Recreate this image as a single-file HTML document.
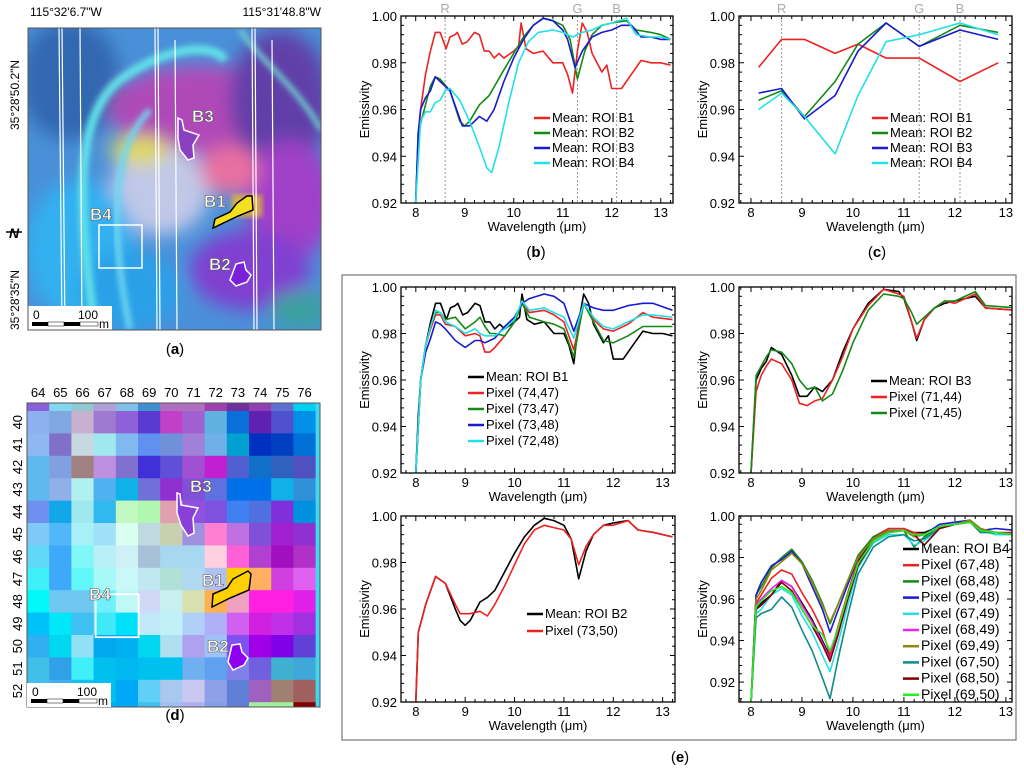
<!DOCTYPE html>
<html><head><meta charset="utf-8">
<style>
html,body{margin:0;padding:0;background:#fff;}
svg{display:block;font-family:"Liberation Sans",Arial,sans-serif;}
</style></head>
<body>
<svg id="fig" width="1024" height="775" viewBox="0 0 1024 775" xmlns="http://www.w3.org/2000/svg">
<defs>
 <filter id="blur8" x="-30%" y="-30%" width="160%" height="160%"><feGaussianBlur stdDeviation="9"/></filter>
 <filter id="blur3"><feGaussianBlur stdDeviation="3"/></filter>
 <clipPath id="clipA"><rect x="28" y="28" width="293" height="302"/></clipPath>
</defs>

<!-- Panel (a) map -->
<g>
 <text x="30" y="16" font-size="12">115°32'6.7"W</text>
 <text x="321" y="16" font-size="12" text-anchor="end">115°31'48.8"W</text>
 <text transform="translate(19,130) rotate(-90)" font-size="12">35°28'50.2"N</text>
 <text transform="translate(19,330) rotate(-90)" font-size="12">35°28'35"N</text>
 <g>
  <line x1="6" y1="232" x2="22" y2="232" stroke="#000" stroke-width="1.5"/>
  <text x="14" y="238" font-size="14" font-weight="bold" text-anchor="middle" font-style="italic">N</text>
 </g>
 <g clip-path="url(#clipA)">
  <rect x="28" y="28" width="293" height="302" fill="#4a90d8"/>
  <g filter="url(#blur8)">
   <ellipse cx="70" cy="80" rx="50" ry="60" fill="#3068b0"/>
   <ellipse cx="200" cy="110" rx="90" ry="45" fill="#b048b8"/>
   <ellipse cx="280" cy="100" rx="50" ry="70" fill="#6040a8"/>
   <ellipse cx="290" cy="200" rx="45" ry="60" fill="#a040c8"/>
   <ellipse cx="250" cy="270" rx="60" ry="40" fill="#8040d0"/>
   <ellipse cx="160" cy="190" rx="50" ry="45" fill="#c0c8e8"/>
   <ellipse cx="140" cy="150" rx="30" ry="15" fill="#e0d860"/>
   <ellipse cx="230" cy="170" rx="30" ry="25" fill="#e870a0"/>
   <ellipse cx="80" cy="250" rx="55" ry="70" fill="#30b0f0"/>
   <ellipse cx="130" cy="290" rx="50" ry="40" fill="#2aa0e8"/>
   <ellipse cx="300" cy="310" rx="30" ry="20" fill="#3aa0a0"/>
  </g>
  <path d="M95,330 C80,220 70,120 120,80 C160,50 210,40 225,60" fill="none" stroke="#60e0e8" stroke-width="9" filter="url(#blur3)"/>
  <path d="M130,330 C110,230 110,150 150,110" fill="none" stroke="#70d8f0" stroke-width="6" filter="url(#blur3)"/>
  <path d="M240,30 C260,60 300,90 321,130" fill="none" stroke="#70d0d0" stroke-width="5" filter="url(#blur3)"/>
  <rect x="232" y="195" width="30" height="22" fill="#f0c020" opacity="0.8" filter="url(#blur3)"/>
  <g stroke="#fff" stroke-width="1.2" fill="none">
   <line x1="59" y1="28" x2="62" y2="330"/><line x1="62" y1="28" x2="65" y2="330"/>
   <line x1="80" y1="28" x2="82" y2="330"/>
   <line x1="155" y1="28" x2="157" y2="330"/><line x1="158" y1="28" x2="160" y2="330"/>
   <line x1="175" y1="40" x2="177" y2="330"/>
   <line x1="252" y1="28" x2="254" y2="330"/><line x1="255" y1="28" x2="257" y2="330"/>
   <line x1="272" y1="40" x2="274" y2="330"/>
  </g>
  <polygon points="178,118 182,120 184,130 199,135 193,145 194,158 188,160 180,150 178,138" fill="#8a40c0" stroke="#fff" stroke-width="1.5"/>
  <polygon points="213,228 215,219 230,212 237,203 247,196 252,196 253,210 238,216" fill="#f5e020" stroke="#000" stroke-width="1.5"/>
  <polygon points="236,264 244,262 246,270 251,275 247,282 236,286 230,280" fill="#7a20d8" stroke="#fff" stroke-width="1.5"/>
  <rect x="99" y="225" width="43" height="43" fill="none" stroke="#fff" stroke-width="1.5"/>
  <g font-size="17" font-weight="bold" fill="#fff" stroke="#555" stroke-width="0.6">
   <text x="192" y="122">B3</text><text x="204" y="207">B1</text><text x="90" y="220">B4</text><text x="209" y="270">B2</text>
  </g>
  <g>
   <rect x="28" y="306" width="84" height="24" fill="#fff"/>
   <rect x="32" y="322" width="16" height="4" fill="#000"/><rect x="48" y="322" width="16" height="4" fill="#fff" stroke="#000" stroke-width="0.5"/>
   <rect x="64" y="322" width="16" height="4" fill="#000"/><rect x="80" y="322" width="18" height="4" fill="#fff" stroke="#000" stroke-width="0.5"/>
   <text x="33" y="319" font-size="12">0</text><text x="78" y="319" font-size="12">100</text><text x="99" y="328" font-size="12">m</text>
  </g>
 </g>
 <rect x="28" y="28" width="293" height="302" fill="none" stroke="#555" stroke-width="1"/>
 <text x="175" y="354" font-size="15" text-anchor="middle">(<tspan font-weight="bold">a</tspan>)</text>
</g>

<!-- Panel (d) grid -->
<g id="panelD">
 <text x="175" y="720" font-size="15" text-anchor="middle">(<tspan font-weight="bold">d</tspan>)</text>
</g>

<!-- charts -->
<g id="charts"></g>
<rect x="342" y="275" width="674" height="465" fill="none" stroke="#777" stroke-width="1.2"/>
<text x="680" y="762" font-size="15" text-anchor="middle">(<tspan font-weight="bold">e</tspan>)</text>
<text x="536" y="257" font-size="15" text-anchor="middle">(<tspan font-weight="bold">b</tspan>)</text>
<text x="877" y="257" font-size="15" text-anchor="middle">(<tspan font-weight="bold">c</tspan>)</text>
</svg>

<script>
// ---------- Panel d grid data ----------
const gridCols = ['64','65','66','67','68','69','70','71','72','73','74','75','76'];
const gridRows = ['40','41','42','43','44','45','46','47','48','49','50','51','52'];
const gridTop = ['#8a60d8','#80d8f0','#90c8d0','#b0a0d8','#80c0e8','#4090d0','#b070c0','#b070c0','#a040b0','#7030a0','#9040b0','#6070d0','#00d0f0'];
const gridColors = [
 ['#8fb0f0','#80a8e0','#c8b0d0','#a07ad0','#9060d8','#5a3ad0','#c040c8','#a060d0','#60b0e0','#0870d8','#6020b0','#5050d0','#0090e8'],
 ['#90b8f0','#8070c8','#c8d8e0','#a0e8f0','#80b8f0','#6090f0','#7090d8','#a080d8','#70b0e8','#00a0d0','#0030c0','#0040c0','#0070d8'],
 ['#60b8f0','#80a0e0','#a08080','#c090e0','#8070d0','#4030d8','#6050d8','#a050d0','#c020d0','#5060d0','#1070c8','#3060c0','#5050c0'],
 ['#60b8f0','#90b0e8','#b0f0f0','#50b0f0','#10b0e8','#7070d8','#9030d0','#8050d8','#6070e0','#0070e8','#0070e8','#10b0e8','#3090d8'],
 ['#7090f0','#10a8e8','#a0e8f0','#30b8f0','#c0f8c0','#b0f8b0','#e0a0b0','#9050e0','#8050e0','#4080f0','#5070e0','#8030d8','#0090e0'],
 ['#80c8f8','#50b8f8','#a8f0f8','#a0e0f8','#d8fff0','#c0d8e0','#c8d0b0','#a090e0','#ff80d0','#c070e0','#8050d8','#a020d0','#9030d0'],
 ['#60d8f8','#40a8f8','#80f8f8','#b8f0f8','#d0f0f8','#a8c0d8','#a8d8f0','#a8d8f0','#ffd0e0','#ff60d8','#b040d0','#a010c0','#b030c8'],
 ['#40f0f8','#40a8f8','#60f8f8','#a8f8f8','#c8f8f8','#c0e8f0','#b0e0d8','#b0d8f0','#b0c0f0','#ffd000','#ffb060','#d040e0','#e060f0'],
 ['#00f8f8','#70c8f0','#70c8f0','#70f0f8','#c0f8f8','#d0d8f8','#c8f0f0','#d8e0b0','#ffb050','#f0a0c0','#ff20e0','#ff20e0','#e020e8'],
 ['#00c0f8','#00e8f8','#40c0f0','#40e8f8','#00e0f8','#c0e8f8','#c0f0f8','#b0d0f8','#b0b0f8','#d060f0','#d020e0','#c030e8','#a030e0'],
 ['#30b0f0','#00d8f0','#90e0f8','#00a8f0','#00b0f0','#00d8f0','#b0e0f0','#b0a0f0','#a0c0f8','#8050f0','#a000e8','#8000e8','#6040d8'],
 ['#40c0e8','#30a0e8','#40f0f8','#00c0f0','#00b8f0','#00c0f0','#00c0f0','#70b0f0','#60a0f0','#8080e8','#7060e0','#40b0d0','#40a8d8'],
 ['#40c0f0','#40b0f0','#10c0f0','#00c0f0','#00a8f8','#60d0f8','#a8c8f0','#c8c8f0','#90a0e8','#6080d8','#a060c0','#a08070','#a06060']];
const gridBottom = ['#40a0e0','#40a0e0','#30d0f0','#00b0f0','#00a8f8','#40c0f0','#a0c0f0','#b0b0f0','#80a0e8','#6080d8','#a0f0a0','#a0f0a0','#800000'];

// ---------- Panel b data (mean ROI spectra) ----------
const b1Wl = [8.0,8.05,8.1,8.2,8.3,8.4,8.5,8.55,8.62,8.7,8.8,8.85,8.95,9.05,9.2,9.3,9.4,9.5,9.6,9.7,9.8,10.0,10.1,10.15,10.25,10.4,10.6,10.8,11.0,11.1,11.2,11.3,11.4,11.5,11.6,11.7,11.8,11.9,12.0,12.2,12.4,12.6,12.8,13.0,13.2];
const b1Val = [0.92,0.945,0.96,0.975,0.985,0.993,0.993,0.99,0.986,0.991,0.992,0.993,0.988,0.989,0.993,0.992,0.985,0.985,0.982,0.984,0.982,0.985,0.987,0.997,0.986,0.984,0.985,0.980,0.980,0.975,0.967,0.985,0.997,0.993,0.984,0.980,0.976,0.979,0.969,0.969,0.975,0.981,0.980,0.980,0.979];
const b2Wl = [8.0,8.05,8.2,8.3,8.4,8.5,8.7,8.9,9.0,9.1,9.3,9.5,9.8,10.0,10.2,10.4,10.6,10.8,11.0,11.15,11.3,11.45,11.6,11.8,12.0,12.3,12.5,12.8,13.0,13.2];
const b2Val = [0.92,0.95,0.962,0.970,0.974,0.973,0.968,0.955,0.953,0.955,0.962,0.966,0.977,0.984,0.991,0.996,0.999,0.998,0.996,0.990,0.973,0.985,0.992,0.996,0.997,0.998,0.994,0.993,0.992,0.990];
const b3Wl = [8.0,8.05,8.1,8.2,8.3,8.4,8.5,8.7,8.8,8.95,9.1,9.3,9.45,9.6,9.8,10.0,10.2,10.4,10.6,10.8,11.0,11.1,11.25,11.4,11.6,11.8,12.0,12.2,12.4,12.6,12.8,13.0,13.2];
const b3Val = [0.92,0.95,0.96,0.965,0.968,0.974,0.972,0.968,0.962,0.953,0.953,0.957,0.955,0.960,0.972,0.982,0.990,0.996,0.999,0.998,0.994,0.990,0.978,0.985,0.991,0.993,0.994,0.996,0.996,0.991,0.991,0.990,0.990];
const b4Wl = [8.0,8.1,8.2,8.3,8.4,8.5,8.6,8.7,8.9,9.1,9.3,9.45,9.55,9.7,9.9,10.1,10.3,10.5,10.8,11.0,11.2,11.4,11.6,11.8,12.0,12.3,12.5,12.8,13.0,13.2];
const b4Val = [0.92,0.955,0.959,0.959,0.963,0.964,0.968,0.969,0.964,0.955,0.944,0.935,0.933,0.944,0.963,0.980,0.989,0.993,0.994,0.993,0.991,0.993,0.994,0.996,0.997,0.999,0.992,0.991,0.991,0.990];

// ---------- Panel c data (resampled bands) ----------
const cWl = [8.15,8.6,9.05,9.65,10.1,10.65,11.3,12.1,12.85];
const cB1 = [0.978,0.990,0.990,0.984,0.988,0.982,0.982,0.972,0.980];
const cB2 = [0.964,0.968,0.957,0.972,0.988,0.997,0.987,0.996,0.993];
const cB3 = [0.967,0.969,0.956,0.966,0.985,0.997,0.987,0.994,0.990];
const cB4 = [0.960,0.967,0.957,0.941,0.966,0.989,0.992,0.997,0.992];

// ---------- Panel e: B1 pixels ----------
const e1Wl = [8.0,8.1,8.2,8.3,8.4,8.5,8.6,8.8,9.0,9.2,9.3,9.4,9.5,9.6,9.8,10.0,10.15,10.3,10.6,10.8,11.0,11.2,11.4,11.6,11.8,12.0,12.3,12.6,12.8,13.2];
const e1P7447 = [0.92,0.96,0.975,0.982,0.988,0.988,0.984,0.983,0.979,0.980,0.979,0.972,0.972,0.974,0.979,0.985,0.993,0.989,0.990,0.988,0.985,0.973,0.993,0.986,0.982,0.981,0.984,0.989,0.987,0.986];
const e1P7347 = [0.92,0.96,0.975,0.983,0.989,0.989,0.986,0.987,0.982,0.985,0.987,0.983,0.980,0.980,0.979,0.985,0.993,0.987,0.985,0.984,0.982,0.970,0.993,0.985,0.977,0.976,0.979,0.983,0.983,0.983];
const e1P7348 = [0.92,0.96,0.972,0.978,0.985,0.984,0.982,0.977,0.974,0.977,0.977,0.976,0.977,0.978,0.983,0.987,0.993,0.995,0.997,0.996,0.993,0.981,0.993,0.991,0.990,0.990,0.992,0.993,0.993,0.990];
const e1P7248 = [0.92,0.96,0.975,0.983,0.990,0.989,0.985,0.983,0.980,0.982,0.980,0.979,0.979,0.979,0.982,0.986,0.994,0.990,0.991,0.989,0.987,0.978,0.993,0.987,0.983,0.982,0.985,0.988,0.988,0.987];

// ---------- Panel e: B3 pixels ----------
const e3Wl = [8.0,8.1,8.2,8.3,8.4,8.6,8.8,8.95,9.1,9.25,9.4,9.6,9.8,10.0,10.3,10.6,10.9,11.0,11.15,11.25,11.4,11.6,11.8,12.0,12.4,12.6,13.2];
const e3Mean = [0.92,0.96,0.965,0.968,0.974,0.971,0.962,0.953,0.953,0.957,0.955,0.960,0.972,0.982,0.993,0.999,0.998,0.995,0.985,0.977,0.986,0.991,0.993,0.994,0.996,0.991,0.990];
const e3P7144 = [0.92,0.955,0.962,0.966,0.969,0.967,0.960,0.950,0.949,0.951,0.952,0.960,0.970,0.982,0.992,0.999,0.997,0.996,0.985,0.978,0.986,0.991,0.994,0.993,0.997,0.991,0.990];
const e3P7145 = [0.92,0.962,0.966,0.970,0.973,0.972,0.967,0.960,0.956,0.957,0.951,0.954,0.964,0.976,0.990,0.997,0.996,0.995,0.989,0.984,0.987,0.991,0.994,0.994,0.998,0.992,0.991];

// ---------- Panel e: B2 pixel ----------
const e2Wl = [8.0,8.05,8.2,8.4,8.6,8.8,8.9,9.0,9.1,9.3,9.45,9.6,9.8,10.0,10.2,10.4,10.6,10.8,11.0,11.15,11.3,11.45,11.6,11.8,12.0,12.3,12.5,12.8,13.2];
const e2Mean = [0.92,0.95,0.962,0.974,0.971,0.960,0.955,0.953,0.955,0.963,0.965,0.968,0.976,0.984,0.991,0.996,0.999,0.998,0.996,0.990,0.973,0.985,0.992,0.996,0.997,0.998,0.994,0.993,0.991];
const e2P7350 = [0.92,0.95,0.962,0.974,0.971,0.962,0.958,0.958,0.958,0.959,0.957,0.962,0.970,0.979,0.988,0.994,0.996,0.995,0.994,0.990,0.979,0.987,0.992,0.996,0.996,0.998,0.994,0.993,0.991];

// ---------- Panel e: B4 pixels ----------
const e4Wl = [8.0,8.1,8.2,8.4,8.6,8.8,9.0,9.2,9.4,9.55,9.7,9.9,10.1,10.4,10.7,11.0,11.2,11.4,11.7,12.0,12.3,12.5,12.8,13.2];
const e4Mean  = [0.91,0.955,0.958,0.962,0.969,0.966,0.958,0.950,0.940,0.932,0.944,0.962,0.978,0.989,0.993,0.993,0.992,0.992,0.995,0.996,0.998,0.993,0.992,0.991];
const e4P6748 = [0.91,0.958,0.962,0.970,0.974,0.972,0.963,0.955,0.945,0.933,0.946,0.963,0.979,0.990,0.994,0.994,0.992,0.991,0.995,0.996,0.998,0.993,0.992,0.992];
const e4P6848 = [0.91,0.962,0.966,0.975,0.980,0.984,0.978,0.969,0.958,0.948,0.957,0.969,0.981,0.990,0.993,0.993,0.985,0.990,0.995,0.996,0.998,0.994,0.992,0.991];
const e4P6948 = [0.91,0.962,0.968,0.976,0.979,0.983,0.977,0.966,0.955,0.944,0.954,0.967,0.980,0.989,0.993,0.993,0.991,0.991,0.996,0.997,0.998,0.993,0.994,0.993];
const e4P6749 = [0.91,0.953,0.955,0.962,0.965,0.962,0.952,0.944,0.933,0.925,0.938,0.957,0.975,0.987,0.991,0.991,0.986,0.988,0.994,0.996,0.997,0.993,0.991,0.991];
const e4P6849 = [0.91,0.957,0.960,0.965,0.969,0.966,0.957,0.949,0.939,0.931,0.943,0.961,0.977,0.988,0.992,0.993,0.991,0.991,0.995,0.996,0.997,0.993,0.992,0.991];
const e4P6949 = [0.91,0.960,0.964,0.974,0.978,0.982,0.977,0.968,0.957,0.949,0.957,0.969,0.980,0.989,0.993,0.993,0.990,0.991,0.995,0.996,0.998,0.994,0.992,0.991];
const e4P6750 = [0.91,0.951,0.953,0.955,0.961,0.956,0.945,0.935,0.922,0.912,0.930,0.952,0.972,0.985,0.990,0.991,0.988,0.989,0.994,0.996,0.997,0.992,0.992,0.991];
const e4P6850 = [0.91,0.955,0.957,0.962,0.968,0.964,0.955,0.947,0.938,0.930,0.942,0.960,0.976,0.988,0.992,0.993,0.991,0.986,0.994,0.996,0.997,0.993,0.992,0.991];
const e4P6950 = [0.91,0.956,0.959,0.964,0.966,0.963,0.955,0.947,0.943,0.935,0.945,0.962,0.977,0.988,0.992,0.993,0.991,0.991,0.995,0.996,0.997,0.993,0.992,0.991];

const xTicks = [8,9,10,11,12,13];
const yTicks = [0.92,0.94,0.96,0.98,1.00];
const yTickLabels = ['0.92','0.94','0.96','0.98','1.00'];
const rgbBands = [8.6,11.3,12.1];
const rgbLabels = ['R','G','B'];

const NS = 'http://www.w3.org/2000/svg';
function mk(tag, attrs, parent){
  const e = document.createElementNS(NS, tag);
  for (const k in attrs) e.setAttribute(k, attrs[k]);
  parent.appendChild(e);
  return e;
}

// ----- draw grid (d) -----
(function(){
  const g = document.getElementById('panelD');
  const L = 27, T = 403, W = 293, H = 304;
  const cw = 22.2, rh = 22.4, topH = 8;
  gridTop.forEach((c,i)=>{ const r = mk('rect',{x:L+i*cw,y:T,width:cw+0.5,height:topH,fill:c},g);
      });
  gridColors.forEach((row,ri)=>row.forEach((c,ci)=>{
    const r = mk('rect',{x:L+ci*cw,y:T+topH+ri*rh,width:cw+0.5,height:rh+0.5,fill:c},g);
     
  }));
  const yb = T+topH+gridRows.length*rh;
  gridBottom.forEach((c,i)=>{ const r = mk('rect',{x:L+i*cw,y:yb,width:cw+0.5,height:T+H-yb,fill:c},g);
      });
  mk('rect',{x:L+13*cw,y:T,width:W-13*cw,height:H,fill:'#40d8f0'},g);
  mk('rect',{x:L,y:T,width:W,height:H,fill:'none',stroke:'#555','stroke-width':1},g);
  gridCols.forEach((t,i)=>{ const tx = mk('text',{x:L+i*cw+cw/2,y:T-6,'font-size':13,'text-anchor':'middle'},g); tx.textContent=t;
      });
  gridRows.forEach((t,i)=>{ const cy=T+topH+i*rh+rh/2; const tx = mk('text',{transform:`translate(${L-5},${cy}) rotate(-90)`,'font-size':13,'text-anchor':'middle'},g); tx.textContent=t;
      });
  // ROIs
  const b4 = mk('rect',{x:L+3*cw+2,y:T+topH+8*rh+4,width:43,height:43,fill:'none',stroke:'#fff','stroke-width':1.8},g);
   
  const p3 = mk('polygon',{points:'177,493 180,494 181,505 198,508 193,518 194,533 188,536 181,525 177,513',fill:'#8a40d8',stroke:'#fff','stroke-width':1.5},g);
   
  const p1 = mk('polygon',{points:'212,607 213,594 227,588 233,579 248,571 251,574 249,590 230,598',fill:'#ffd000',stroke:'#000','stroke-width':1.5},g);
   
  const p2 = mk('polygon',{points:'232,645 240,644 242,652 248,658 244,665 233,670 228,662',fill:'#9000f0',stroke:'#fff','stroke-width':1.5},g);
   
  [['B3',190,492],['B1',202,586],['B4',89,600],['B2',207,652]].forEach(a=>{
    const t = mk('text',{x:a[1],y:a[2],'font-size':17,'font-weight':'bold',fill:'#fff',stroke:'#555','stroke-width':0.6},g); t.textContent=a[0];
     
  });
  mk('rect',{x:27,y:683,width:84,height:24,fill:'#fff'},g);
  mk('rect',{x:31,y:699,width:16,height:4,fill:'#000'},g);
  mk('rect',{x:47,y:699,width:16,height:4,fill:'#fff',stroke:'#000','stroke-width':0.5},g);
  mk('rect',{x:63,y:699,width:16,height:4,fill:'#000'},g);
  mk('rect',{x:79,y:699,width:18,height:4,fill:'#fff',stroke:'#000','stroke-width':0.5},g);
  const s0=mk('text',{x:32,y:696,'font-size':12},g); s0.textContent='0';
  const s1=mk('text',{x:77,y:696,'font-size':12},g); s1.textContent='100';
  const s2=mk('text',{x:98,y:705,'font-size':12},g); s2.textContent='m';
})();

// ----- generic chart -----
function chart(opt){
  const root = document.getElementById('charts');
  const g = mk('g',{},root);
  
  
  const {L,R,T,B,x0,x1,y0,y1} = opt;
  const X = v => L + (v-x0)/(x1-x0)*(R-L);
  const Y = v => B - (v-y0)/(y1-y0)*(B-T);
  mk('rect',{x:L,y:T,width:R-L,height:B-T,fill:'#fff'},g);
  // minor/major ticks
  for(let v=Math.ceil(x0*5)/5; v<=x1+1e-9; v+=0.2){
    const maj = Math.abs(v-Math.round(v))<1e-6; const len = maj?5:3;
    mk('line',{x1:X(v),x2:X(v),y1:B,y2:B-len,stroke:'#000','stroke-width':1},g);
    mk('line',{x1:X(v),x2:X(v),y1:T,y2:T+len,stroke:'#000','stroke-width':1},g);
  }
  for(let v=Math.ceil(y0/0.004)*0.004; v<=y1+1e-9; v+=0.004){
    const maj = Math.abs(v/0.02-Math.round(v/0.02))<1e-4; const len = maj?5:3;
    mk('line',{x1:L,x2:L+len,y1:Y(v),y2:Y(v),stroke:'#000','stroke-width':1},g);
    mk('line',{x1:R,x2:R-len,y1:Y(v),y2:Y(v),stroke:'#000','stroke-width':1},g);
  }
  if(opt.rgb){
    rgbBands.forEach((w,i)=>{
      const l = mk('line',{x1:X(w),x2:X(w),y1:T,y2:B,stroke:'#999','stroke-width':1,'stroke-dasharray':'2,2'},g);
      
      
      const t = mk('text',{x:X(w),y:T-3,'font-size':13,fill:'#aaa','text-anchor':'middle'},g);
      t.textContent = rgbLabels[i];
      
      
    });
  }
  xTicks.forEach(v=>{ const t=mk('text',{x:X(v),y:B+14,'font-size':13,'text-anchor':'middle'},g); t.textContent=String(v);
      });
  yTicks.forEach((v,i)=>{ if(v<y0-1e-9) return; const t=mk('text',{x:L-4,y:Y(v)+5,'font-size':13,'text-anchor':'end'},g); t.textContent=yTickLabels[i];
      });
  const xt = mk('text',{x:(L+R)/2,y:B+28,'font-size':13,'text-anchor':'middle'},g); xt.textContent='Wavelength (μm)';
   
  const yt = mk('text',{transform:`translate(${L-32},${(T+B)/2}) rotate(-90)`,'font-size':13,'text-anchor':'middle'},g); yt.textContent='Emissivity';
   
  const cid = 'clip'+opt.name;
  const cp = mk('clipPath',{id:cid},g); mk('rect',{x:L,y:T,width:R-L,height:B-T},cp);
  const sg = mk('g',{'clip-path':`url(#${cid})`},g);
  opt.series.forEach(s=>{
    const d = s.wl.map((w,i)=>(i?'L':'M')+X(w).toFixed(1)+','+Y(s.val[i]).toFixed(1)).join(' ');
    const p = mk('path',{d:d,fill:'none',stroke:s.color,'stroke-width':s.w||1.6,'stroke-linejoin':'round'},sg);
    
    
  });
  mk('rect',{x:L,y:T,width:R-L,height:B-T,fill:'none',stroke:'#000','stroke-width':1.3},g);
  const lg = mk('g',{},g);
  
  
  opt.series.forEach((s,i)=>{
    const y = opt.legY + i*opt.legDy;
    mk('line',{x1:opt.legX,x2:opt.legX+16,y1:y-4,y2:y-4,stroke:s.color,'stroke-width':2.5},lg);
    const t = mk('text',{x:opt.legX+18,y:y,'font-size':opt.legFs||13},lg);
    t.textContent = s.label;
    
    
  });
}

const RED='#ee2222', GRN='#138a13', BLU='#1a1ad0', CYN='#22e0e8';
chart({name:'panel-b',L:401,R:673,T:16,B:203,x0:7.7,x1:13.25,y0:0.92,y1:1.0,rgb:true,legX:534,legY:122,legDy:15,
  series:[{wl:b1Wl,val:b1Val,color:RED,label:'Mean: ROI B1'},{wl:b2Wl,val:b2Val,color:GRN,label:'Mean: ROI B2'},
          {wl:b3Wl,val:b3Val,color:BLU,label:'Mean: ROI B3'},{wl:b4Wl,val:b4Val,color:CYN,label:'Mean: ROI B4'}]});
chart({name:'panel-c',L:739,R:1012,T:16,B:203,x0:7.765,x1:13.12,y0:0.92,y1:1.0,rgb:true,legX:872,legY:122,legDy:15,
  series:[{wl:cWl,val:cB1,color:RED,label:'Mean: ROI B1'},{wl:cWl,val:cB2,color:GRN,label:'Mean: ROI B2'},
          {wl:cWl,val:cB3,color:BLU,label:'Mean: ROI B3'},{wl:cWl,val:cB4,color:CYN,label:'Mean: ROI B4'}]});
chart({name:'panel-e-b1',L:401,R:675,T:287,B:473,x0:7.7,x1:13.25,y0:0.92,y1:1.0,legX:468,legY:381,legDy:16,
  series:[{wl:b1Wl,val:b1Val,color:'#000',label:'Mean: ROI B1'},{wl:e1Wl,val:e1P7447,color:RED,label:'Pixel (74,47)'},
          {wl:e1Wl,val:e1P7347,color:GRN,label:'Pixel (73,47)'},{wl:e1Wl,val:e1P7348,color:BLU,label:'Pixel (73,48)'},
          {wl:e1Wl,val:e1P7248,color:CYN,label:'Pixel (72,48)'}]});
chart({name:'panel-e-b3',L:739,R:1012,T:287,B:473,x0:7.765,x1:13.12,y0:0.92,y1:1.0,legX:871,legY:385,legDy:16,
  series:[{wl:e3Wl,val:e3Mean,color:'#000',label:'Mean: ROI B3'},{wl:e3Wl,val:e3P7144,color:RED,label:'Pixel (71,44)'},
          {wl:e3Wl,val:e3P7145,color:GRN,label:'Pixel (71,45)'}]});
chart({name:'panel-e-b2',L:401,R:675,T:516,B:702,x0:7.7,x1:13.25,y0:0.92,y1:1.0,legX:527,legY:618,legDy:17,
  series:[{wl:e2Wl,val:e2Mean,color:'#000',label:'Mean: ROI B2'},{wl:e2Wl,val:e2P7350,color:RED,label:'Pixel (73,50)'}]});
chart({name:'panel-e-b4',L:739,R:1012,T:516,B:702,x0:7.765,x1:13.12,y0:0.9104,y1:1.0,legX:903,legY:553,legDy:16.2,legFs:14,
  series:[{wl:e4Wl,val:e4Mean,color:'#000',label:'Mean: ROI B4'},{wl:e4Wl,val:e4P6748,color:RED,label:'Pixel (67,48)'},
          {wl:e4Wl,val:e4P6848,color:GRN,label:'Pixel (68,48)'},{wl:e4Wl,val:e4P6948,color:BLU,label:'Pixel (69,48)'},
          {wl:e4Wl,val:e4P6749,color:CYN,label:'Pixel (67,49)'},{wl:e4Wl,val:e4P6849,color:'#ee22ee',label:'Pixel (68,49)'},
          {wl:e4Wl,val:e4P6949,color:'#8a8a10',label:'Pixel (69,49)'},{wl:e4Wl,val:e4P6750,color:'#108a8a',label:'Pixel (67,50)'},
          {wl:e4Wl,val:e4P6850,color:'#800000',label:'Pixel (68,50)'},{wl:e4Wl,val:e4P6950,color:'#22ee22',label:'Pixel (69,50)'}]});
</script>
</body></html>
